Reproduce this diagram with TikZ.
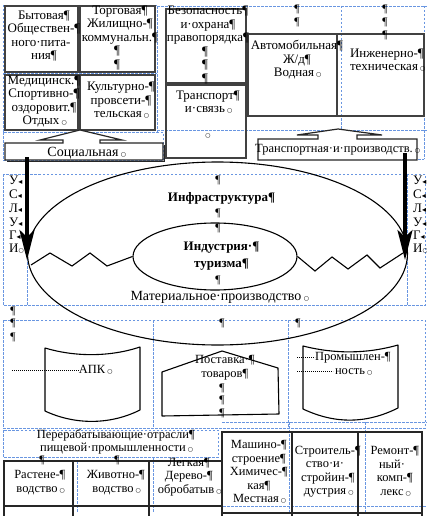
\documentclass[tikz,border=0pt]{standalone}
\usepackage{fontspec}
\setmainfont{Liberation Serif}
\newfontfamily\symf{DejaVu Sans}
\usetikzlibrary{arrows.meta,shapes.geometric}
\definecolor{layblue}{RGB}{105,150,225}
\definecolor{boxgray}{RGB}{65,65,65}
\newcommand\pq{\rlap{¶}}
\newcommand\ecg{{\symf\fontsize{6}{6}\selectfont ○}}
\newcommand\ecm{\rlap{\,\ecg}}
\newcommand\lbm{{\symf\fontsize{8}{8}\selectfont ◂}}
\begin{document}
\begin{tikzpicture}[x=1pt,y=-1pt,
  lay/.style={draw=layblue, line width=0.6pt, dash pattern=on 2.5pt off 1.5pt},
  bx/.style={draw=boxgray, line width=1.6pt, inner sep=0pt, outer sep=0pt},
  bxt/.style={draw=black!85, line width=1.2pt, inner sep=0pt, outer sep=0pt},
  shp/.style={draw=black, line width=1.1pt, line join=round},
  txt/.style={font=\fontsize{12.5}{13.5}\selectfont, align=center, inner sep=0pt},
  txtb/.style={font=\fontsize{13}{13.5}\selectfont, align=center, inner sep=0pt},
  big/.style={font=\fontsize{13}{17}\selectfont\bfseries, align=center, inner sep=0pt},
  mid/.style={font=\fontsize{14}{15}\selectfont, align=center, inner sep=0pt},
  pil/.style={font=\fontsize{11.5}{11.5}\selectfont, inner sep=0pt},
  ltr/.style={font=\fontsize{13}{13}\selectfont, inner sep=0pt, anchor=west},
  thk/.style={line width=3.5pt, -{Stealth[length=30pt,width=15pt,inset=7pt]}},
  dotl/.style={draw=black, line width=0.6pt, dash pattern=on 0.8pt off 1.2pt}
]
\useasboundingbox (0,0) rectangle (427,516);
\fill[white] (0,0) rectangle (427,516);

% ---------- layout (dashed table grid) ----------
\draw[lay] (3,5) rectangle (157,132);
\draw[lay] (79,5) -- (79,132);
\draw[lay] (3,73) -- (157,73);
\draw[lay] (157,6) -- (427,6);
\draw[lay] (341,6) -- (341,130);
\draw[lay] (424,6) -- (424,130);
\draw[lay] (157,130) -- (427,130);
\draw[lay] (3,132) rectangle (163,160);
\draw[lay] (258,159) -- (424,159);
\draw[lay] (424,130) -- (424,159);
\draw[lay] (3,174) rectangle (425,305);
\draw[lay] (27,174) -- (27,305);
\draw[lay] (407,174) -- (407,305);
\draw[lay] (3,320) rectangle (425,428);
\draw[lay] (153,320) -- (153,428);
\draw[lay] (288,320) -- (288,428);
\draw[lay] (3,430) rectangle (218,457);
\draw[lay] (77,461) -- (77,512);
\draw[lay] (153,457) -- (153,512);
\draw[lay] (289,422) -- (289,512);
\draw[lay] (365,422) -- (365,512);
\draw[lay] (222,422) -- (427,422);
\draw[lay] (3,506) -- (427,506);

% ---------- top boxes ----------
\node[bx, anchor=north west, minimum width=73pt, minimum height=66pt] (byt) at (5,6) {};
\node[bx, anchor=north west, minimum width=75pt, minimum height=66pt] (trg) at (80,6) {};
\node[bx, anchor=north west, minimum width=73pt, minimum height=55pt] (med) at (5,75) {};
\node[bx, anchor=north west, minimum width=75pt, minimum height=55pt] (kul) at (80,75) {};
\node[bx, anchor=north west, minimum width=80pt, minimum height=74pt] (bez) at (166,9) {};
\node[bx, anchor=north west, minimum width=80pt, minimum height=73pt] (trs) at (166,85) {};
\node[bx, anchor=north west, minimum width=89pt, minimum height=82pt] (avt) at (248,34) {};
\node[bx, anchor=north west, minimum width=87pt, minimum height=82pt] (ing) at (337,34) {};

\node[txtb] (tbyt) at (41,36) {Бытовая\pq\\Обществен-\pq\\ного·пита-\\ния\pq};
\node[txtb] (ttrg) at (117,38) {Торговая\pq\\Жилищно-\pq\\коммунальн.\pq\\¶\\¶};
\node[txtb] (tmed) at (41,101.5) {Медицинск.\pq\\Спортивно-\pq\\оздоровит.\pq\\Отдых\ecm};
\node[txtb] (tkul) at (118,100.5) {Культурно-\pq\\провсети-\pq\\тельская\ecm};
\node[txtb] (tbez) at (205,45) {Безопасность\pq\\и·охрана\pq\\правопорядка\pq\\¶\\¶\\¶};
\node[txtb] (ttrs) at (205,102) {Транспорт\pq\\и·связь\ecm};
\node[pil] (etrs) at (208,136) {\ecg};
\node[txtb] (tavt) at (294,60) {Автомобильная\pq\\Ж/д\pq\\Водная\ecm};
\node[txtb] (ting) at (384,60) {Инженерно-\pq\\техническая\ecm};
\node[pil] (p1) at (297,9) {¶};
\node[pil] (p2) at (297,22) {¶};
\node[pil] (p3) at (385,9) {¶};
\node[pil] (p4) at (385,22) {¶};
\node[pil] (p5) at (385,35) {¶};

% ---------- block arrows ----------
\coordinate (soctip) at (80,130);
\draw[bxt, fill=white] (5,143) -- (63,143) -- (63,140) -- (40,140) -- (soctip) -- (122,140) -- (100,140) -- (100,143) -- (163,143) -- (163,160) -- (5,160) -- cycle;
\draw[black!85, line width=1pt] (7,161.3) -- (164.3,161.3) -- (164.3,145);
\node[mid] (tsoc) at (83,153) {Социальная\ecm};
\coordinate (prtip) at (338,129);
\draw[bxt, fill=white] (258,139) -- (318,139) -- (318,135) -- (297,135) -- (prtip) -- (382,135) -- (357,135) -- (357,139) -- (417,139) -- (417,160) -- (258,160) -- cycle;
\node[txt] (tpr) at (334,150) {Транспортная·и·производств.\ecm};

% ---------- ellipses ----------
\node[draw, ellipse, line width=1.1pt, minimum width=380pt, minimum height=183pt, inner sep=0pt] (outer) at (217.5,253.5) {};
\node[draw, ellipse, line width=1.1pt, minimum width=164pt, minimum height=67pt, inner sep=0pt] (inner) at (215,256.5) {};
\draw[line width=1.1pt, line join=miter] (31,265) -- (50,253) -- (72,266) -- (90,253) -- (107,266) -- (inner.west);
\draw[line width=1.1pt, line join=miter] (inner.east) -- (315,271) -- (332,257) -- (348,269) -- (367,255) -- (380,268) -- (403,253);

\node[pil] (c1) at (218,180) {¶};
\node[big] (tinf) at (218,198) {Инфраструктура\pq};
\node[pil] (c2) at (218,213) {¶};
\node[pil] (c3) at (218,228) {¶};
\node[big] (tind) at (218,256.5) {Индустрия·\pq\\туризма\pq};
\node[pil] (c4) at (218,280) {¶};
\node[mid] (tmat) at (216,297) {Материальное·производство\ecm};

% ---------- thick arrows ----------
\coordinate (la0) at (27,157);
\coordinate (la1) at (27,260);
\coordinate (ra0) at (405,153);
\coordinate (ra1) at (405,260);
\draw[thk] (la0) -- (la1);
\draw[thk] (ra0) -- (ra1);

% ---------- letters ----------
\foreach \l/\y [count=\i] in {У/180,С/194,Л/208,У/222,Г/235} {
  \node[ltr] (l\i) at (9,\y) {\l\lbm};
  \node[ltr] (r\i) at (413,\y) {\l\lbm};
}
\node[ltr] (l6) at (9,249) {И\ecg};
\node[ltr] (r6) at (413,249) {И\ecg};

% ---------- middle shapes ----------
\foreach \y [count=\i] in {311,323,337} { \node[pil] (lp\i) at (13,\y) {¶}; }
\node[pil] (rp1) at (298,323) {¶};
\node[pil] (mp0) at (222,323) {¶};
\draw[shp] (45,348) .. controls (75,357) and (110,357) .. (140,347) -- (140,410) .. controls (110,425) and (75,425) .. (45,411) -- cycle;
\coordinate (apkL) at (12,370);
\node[txt] (tapk) at (92,370) {АПК\ecm};
\draw[dotl] (apkL) -- (tapk.west);

\coordinate (pst) at (222,351);
\draw[shp] (pst) -- (278,368) -- (279,414) -- (162,416) -- (162,372) -- cycle;
\node[txt] (tpst) at (222,367.5) {Поставка·\pq\\товаров\pq};
\foreach \y [count=\i] in {388,400,413} { \node[pil] (mp\i) at (222,\y) {¶}; }

\draw[shp] (303,346) .. controls (335,354) and (366,354) .. (398,345) -- (398,408) .. controls (366,424) and (335,424) .. (303,409) -- cycle;
\node[txt] (tprm) at (350,364) {Промышлен-\pq\\ность\ecm};
\coordinate (pr1) at (297,357);
\coordinate (pr2) at (297,371);
\draw[dotl] (pr1) -- (315,357);
\draw[dotl] (pr2) -- (333,371);

% ---------- bottom ----------
\node[txt] (tper) at (113,442) {Перерабатывающие·отрасли\pq\\пищевой·промышленности\ecm};
\draw[bxt] (4,516) -- (4,461) -- (222,461);
\draw[bxt] (73,461) -- (73,516);
\draw[bxt] (149,461) -- (149,516);
\draw[bxt] (4,506) -- (222,506);
\draw[bxt] (222,516) -- (222,432) -- (422,432) -- (422,516);
\draw[bxt] (292,432) -- (292,516);
\draw[bxt] (358,432) -- (358,516);
\draw[bxt] (222,513) -- (422,513);

\node[pil] (bp1) at (42,460) {¶};
\node[pil] (bp2) at (117,460) {¶};
\node[txt] (trast) at (37,482.5) {Растене-\pq\\водство\ecm};
\node[txt] (tziv) at (113,482.5) {Животно-\pq\\водство\ecm};
\node[txt] (tleg) at (186,477) {Легкая\pq\\Дерево-\pq\\обробатыв\ecm};
\node[txt] (tmash) at (256,472) {Машино-\pq\\строение\pq\\Химичес-\pq\\кая\pq\\Местная\ecm};
\node[txt] (tstr) at (325,471.5) {Строитель-\pq\\ство·и·\\стройин-\pq\\дустрия\ecm};
\node[txt] (trem) at (392,471.5) {Ремонт-\pq\\ный·\\комп-\pq\\лекс\ecm};
\end{tikzpicture}
\end{document}
